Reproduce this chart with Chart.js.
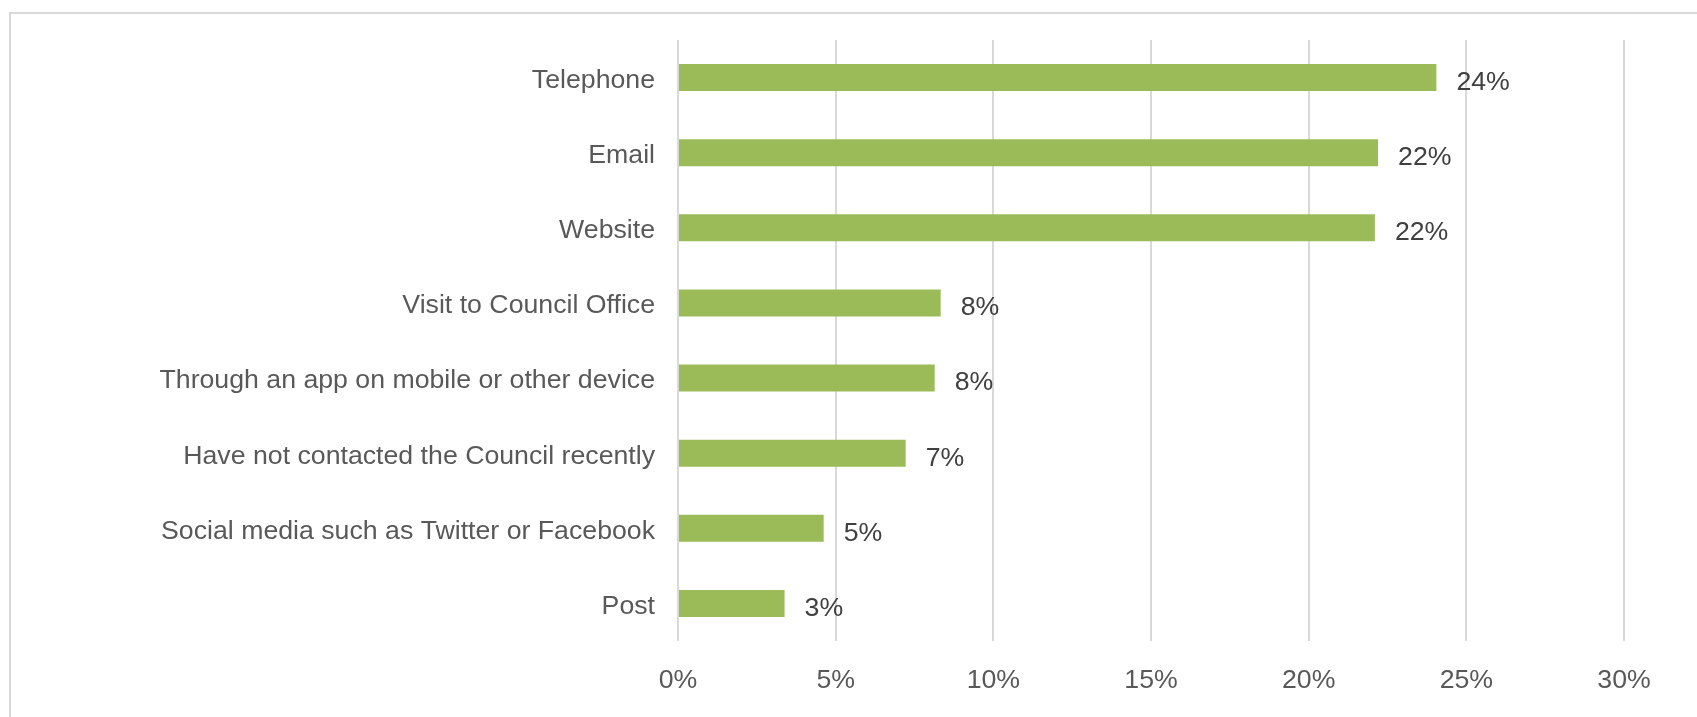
<!DOCTYPE html>
<html>
<head>
<meta charset="utf-8">
<script src="https://cdn.jsdelivr.net/npm/chart.js@4/dist/chart.umd.min.js"></script>
<style>
  html, body { margin: 0; padding: 0; background: #ffffff; overflow: hidden; }
  #wrap { position: relative; width: 1697px; height: 717px; overflow: hidden; }
  #frame { position: absolute; left: 9px; top: 12px; width: 1720px; height: 740px;
           border-left: 2px solid #d9d9d9; border-top: 2px solid #d9d9d9; box-sizing: border-box; }
  #chart { position: absolute; left: 0; top: 0; }
</style>
</head>
<body>
<div id="wrap">
  <div id="frame"></div>
  <canvas id="chart" width="1697" height="717"></canvas>
</div>
<script>
// How residents contacted the Council (share of responses, %)
const categories = [
  'Telephone',
  'Email',
  'Website',
  'Visit to Council Office',
  'Through an app on mobile or other device',
  'Have not contacted the Council recently',
  'Social media such as Twitter or Facebook',
  'Post'
];
const shares = [24.05, 22.2, 22.1, 8.33, 8.14, 7.22, 4.62, 3.38];
const axisTicks = [0, 5, 10, 15, 20, 25, 30];

const FONT = '"Liberation Sans", Arial, sans-serif';
const FONT_SIZE = 26.7;

// Percent labels just past the end of each bar
const valueLabels = {
  id: 'valueLabels',
  afterDatasetsDraw(chart) {
    const ctx = chart.ctx;
    const meta = chart.getDatasetMeta(0);
    ctx.save();
    ctx.font = FONT_SIZE + 'px ' + FONT;
    ctx.fillStyle = '#404040';
    ctx.textAlign = 'left';
    ctx.textBaseline = 'middle';
    meta.data.forEach((bar, i) => {
      ctx.fillText(Math.round(shares[i]) + '%', bar.x + 20, bar.y + 5);
    });
    ctx.restore();
  }
};

new Chart(document.getElementById('chart'), {
  type: 'bar',
  data: {
    labels: categories,
    datasets: [{
      data: shares,
      backgroundColor: '#9bbb59',
      borderWidth: 0,
      categoryPercentage: 1.0,
      barPercentage: 0.36
    }]
  },
  options: {
    indexAxis: 'y',
    responsive: false,
    animation: false,
    devicePixelRatio: 1,
    layout: { padding: { left: 0, right: 73, top: 40, bottom: 0 } },
    plugins: {
      legend: { display: false },
      tooltip: { enabled: false }
    },
    scales: {
      x: {
        min: 0,
        max: 30,
        afterBuildTicks(scale) {
          scale.ticks = axisTicks.map(v => ({ value: v }));
        },
        afterFit(scale) { scale.height = 76; },
        grid: { color: '#d9d9d9', lineWidth: 2, drawTicks: false },
        border: { display: false },
        ticks: {
          padding: 24,
          color: '#595959',
          font: { family: FONT, size: FONT_SIZE },
          callback: v => v + '%'
        }
      },
      y: {
        grid: { display: false, drawTicks: false },
        border: { display: false },
        ticks: {
          padding: 23,
          labelOffset: 3,
          color: '#595959',
          font: { family: FONT, size: FONT_SIZE },
          autoSkip: false
        },
        afterFit(scale) { scale.width = 678; }
      }
    }
  },
  plugins: [valueLabels]
});
</script>
</body>
</html>
